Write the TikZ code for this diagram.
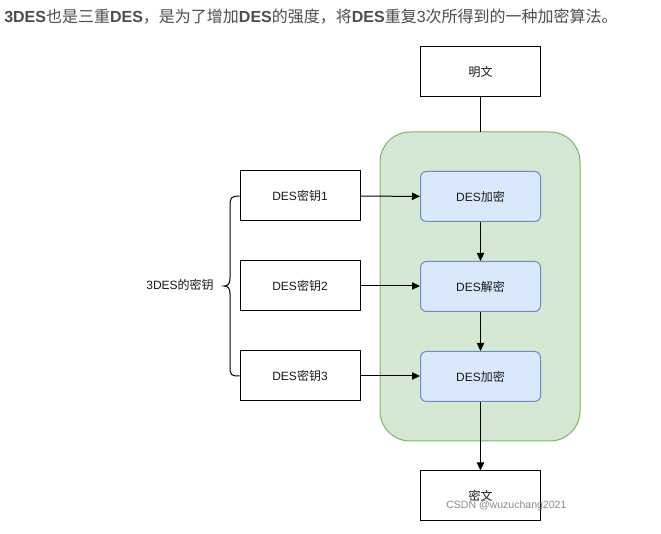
\documentclass[tikz,border=0pt]{standalone}
\usepackage{fontspec}
\setmainfont{Liberation Sans}
\newfontfamily\cjkf{Noto Sans CJK SC}
\newcommand\zh[1]{{\cjkf #1}}
\usetikzlibrary{arrows.meta}
\definecolor{titlegray}{HTML}{4D4D4D}
\definecolor{grfill}{HTML}{D5E8D4}
\definecolor{grline}{HTML}{82B366}
\definecolor{blfill}{HTML}{DAE8FC}
\definecolor{blline}{HTML}{6C8EBF}
\tikzset{
  box/.style={draw=black, line width=0.75pt, minimum width=90pt, minimum height=37.5pt, inner sep=0pt, font=\fontsize{9pt}{11pt}\selectfont, text=black!90},
  desbox/.style={box, draw=blline, fill=blfill, rounded corners=4.5pt},
  conn/.style={line width=0.75pt, draw=black},
  arr/.style={conn, -{Triangle[length=6pt,width=5.5pt]}},
}
\begin{document}
\begin{tikzpicture}[x=0.75pt,y=-0.75pt]
\useasboundingbox (0,0) rectangle (661,534);
\fill[white] (0,0) rectangle (661,534);
% title
\node[anchor=west, inner sep=0pt, text=titlegray, font=\fontsize{12pt}{14pt}\selectfont] (title) at (4,17)
  {\textbf{3DES}\zh{也是三重}\textbf{DES}\zh{，是为了增加}\textbf{DES}\zh{的强度，将}\textbf{DES}\zh{重复}3\zh{次所得到的一种加密算法。}};
% container
\draw[fill=grfill, draw=grline, line width=0.75pt, rounded corners=22.5pt] (380,132) rectangle (580,441);
\coordinate (ctop) at (480.5,132);
% nodes
\node[box] (plain) at (480.5,72) {\zh{明文}};
\node[box] (k1) at (300,196) {DES\zh{密钥}1};
\node[box] (k2) at (300,286) {DES\zh{密钥}2};
\node[box] (k3) at (300,376) {DES\zh{密钥}3};
\node[desbox] (e1) at (480.5,196.5) {DES\zh{加密}};
\node[desbox] (d2) at (480.5,286.5) {DES\zh{解密}};
\node[desbox] (e3) at (480.5,376.5) {DES\zh{加密}};
\node[box] (cipher) at (480.5,496) {\zh{密文}};
% connectors
\draw[conn] (plain) -- (ctop);
\draw[arr] (k1) -- (e1);
\draw[arr] (k2.east) -- (d2.west |- k2.east);
\draw[arr] (k3.east) -- (e3.west |- k3.east);
\draw[arr] (e1) -- (d2);
\draw[arr] (d2) -- (e3);
\draw[arr] (e3) -- (cipher);
% brace
\node[anchor=east, inner sep=0pt, font=\fontsize{9pt}{11pt}\selectfont, text=black!90] (keys) at (214,285) {3DES\zh{的密钥}};
\draw[conn] (k1.west) .. controls (231,196) and (230,198) .. (230,206) -- (230,278)
  .. controls (230,284) and (228,286) .. (224,286)
  .. controls (228,286) and (230,288) .. (230,294) -- (230,367)
  .. controls (230,375) and (231,376) .. (k3.west);
% watermark
\node[anchor=west, inner sep=0pt, text=black!45, font=\fontsize{7.9pt}{9pt}\selectfont] (wm) at (446,506) {CSDN @wuzuchang2021};
\end{tikzpicture}
\end{document}
